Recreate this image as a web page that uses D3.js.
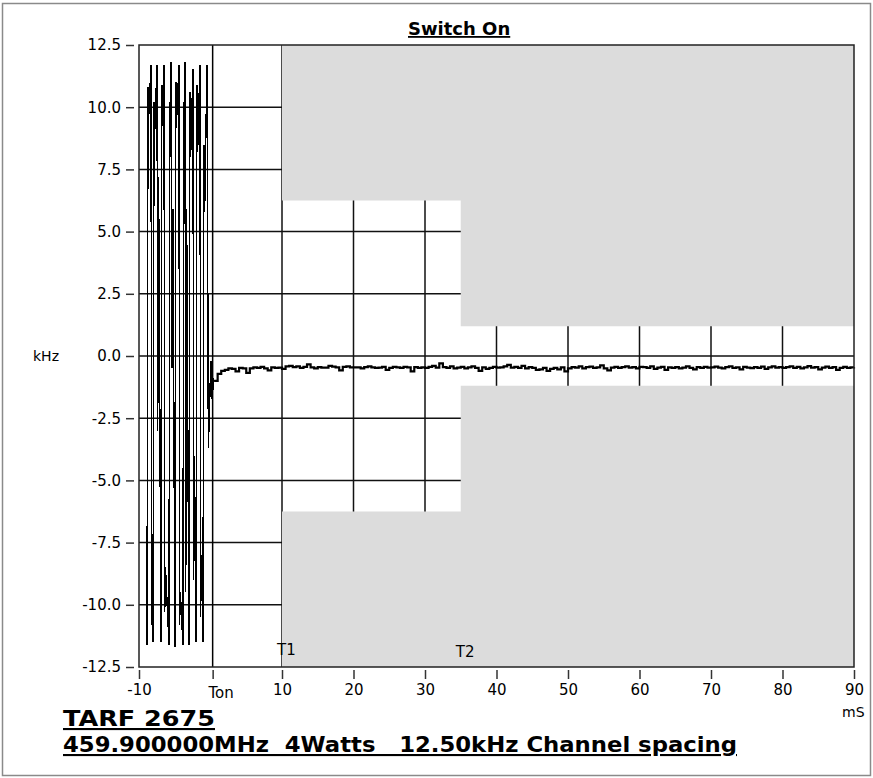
<!DOCTYPE html>
<html>
<head>
<meta charset="UTF-8">
<title>Switch On</title>
<style>
  body { margin: 0; background: #fff; }
  svg text { font-family: "DejaVu Sans", Verdana, sans-serif; fill: #000; }
</style>
</head>
<body>
<div id="chart"></div>
<script src="https://cdnjs.cloudflare.com/ajax/libs/d3/7.8.5/d3.min.js"></script>
<script>
// axis ticks
var xTicks = [-10, 0.3, 10, 20, 30, 40, 50, 60, 70, 80, 90];
var xTickLabels = ["-10", "Ton", "10", "20", "30", "40", "50", "60", "70", "80", "90"];
var yTicks = [12.5, 10, 7.5, 5, 2.5, 0, -2.5, -5, -7.5, -10, -12.5];
var yTickLabels = ["12.5", "10.0", "7.5", "5.0", "2.5", "0.0", "-2.5", "-5.0", "-7.5", "-10.0", "-12.5"];
var gridX = [10, 20, 30, 40, 50, 60, 70, 80];
var tOn = 0.3;

// limit mask (T1 = 10 ms, T2 = 35 ms)
var maskTime = [10, 35, 90];
var maskLimit = [6.25, 1.2];
var markers = [{name: "T1", t: 10}, {name: "T2", t: 35}];

// frequency before switch on (ms, kHz)
var preTime = [-8.95, -8.88, -8.74, -8.66, -8.32, -8.22, -8.14, -8.04, -7.90, -7.80,
  -7.48, -7.38, -7.26, -6.92, -6.80, -6.72, -6.50, -6.40, -6.30, -5.80,
  -5.70, -5.62, -5.52, -5.40, -5.26, -4.97, -4.84, -4.74, -4.41, -4.32,
  -4.22, -3.85, -3.74, -3.66, -3.57, -3.46, -3.34, -3.01, -2.88, -2.78,
  -2.45, -2.35, -2.24, -2.03, -1.90, -1.80, -1.47, -1.38, -1.28, -1.05,
  -0.92, -0.82, -0.49, -0.30, 0.05, 0.25, 0.40];
var preKHz = [-10.6, -11.6, 10.8, 9.5, 11.7, -10.8, -9.0, -11.5, 10.2, 9.0,
  11.7, -3.0, 7.2, -11.5, 10.9, 10.0, 11.7, -10.3, -8.5, -11.6,
  10.2, 8.0, 11.8, -0.5, 5.9, -11.7, 11.0, 9.5, 11.7, -10.8,
  -9.5, -11.6, 10.2, 7.8, 11.8, -9.5, 5.9, -11.6, 10.6, 8.0,
  11.55, -9.0, -4.0, -11.5, 10.9, 8.2, 11.7, -10.5, -8.0, -11.5,
  8.5, 5.8, 11.7, -3.7, -0.2, -1.8, -0.9];

// frequency after switch on, one reading every 0.5 ms from 0.5 ms
var postStart = 0.5, postStep = 0.5;
var postKHz = [
  -1.00, -0.72, -0.60, -0.56, -0.50, -0.52, -0.62, -0.48, -0.50, -0.68, -0.50, -0.46, -0.48, -0.44, -0.50, -0.58, -0.46, -0.48, -0.47, -0.52,
  -0.42, -0.40, -0.45, -0.42, -0.48, -0.44, -0.34, -0.46, -0.50, -0.45, -0.47, -0.47, -0.40, -0.43, -0.46, -0.58, -0.44, -0.42, -0.46, -0.46,
  -0.46, -0.50, -0.45, -0.42, -0.46, -0.48, -0.47, -0.44, -0.56, -0.48, -0.44, -0.46, -0.48, -0.44, -0.46, -0.62, -0.45, -0.48, -0.46, -0.48,
  -0.44, -0.40, -0.47, -0.30, -0.45, -0.48, -0.42, -0.50, -0.47, -0.44, -0.50, -0.46, -0.42, -0.48, -0.60, -0.46, -0.52, -0.48, -0.44, -0.47,
  -0.46, -0.42, -0.36, -0.47, -0.44, -0.48, -0.40, -0.50, -0.45, -0.48, -0.56, -0.54, -0.48, -0.60, -0.52, -0.48, -0.54, -0.46, -0.62, -0.50,
  -0.45, -0.47, -0.42, -0.50, -0.45, -0.43, -0.48, -0.46, -0.38, -0.50, -0.58, -0.47, -0.44, -0.48, -0.45, -0.42, -0.47, -0.45, -0.50, -0.44,
  -0.45, -0.48, -0.42, -0.52, -0.47, -0.44, -0.56, -0.46, -0.48, -0.45, -0.50, -0.47, -0.42, -0.48, -0.54, -0.45, -0.48, -0.44, -0.47, -0.46,
  -0.43, -0.47, -0.50, -0.45, -0.42, -0.48, -0.46, -0.54, -0.44, -0.47, -0.49, -0.45, -0.48, -0.43, -0.52, -0.46, -0.42, -0.47, -0.45, -0.48,
  -0.45, -0.42, -0.48, -0.44, -0.50, -0.46, -0.41, -0.47, -0.45, -0.54, -0.47, -0.43, -0.48, -0.45, -0.56, -0.48, -0.44, -0.48, -0.46, -0.45
];

var width = 873, height = 778;
var plot = {left: 139, right: 854, top: 45, bottom: 667};

var svg = d3.select("#chart").append("svg")
  .attr("width", width).attr("height", height);

svg.append("rect")
  .attr("x", 2.5).attr("y", 3.5)
  .attr("width", width - 5).attr("height", height - 6)
  .attr("fill", "#fff").attr("stroke", "#8a8a8a").attr("stroke-width", 1.5);

var x = d3.scaleLinear().domain([-10, 90]).range([plot.left, plot.right]);
var y = d3.scaleLinear().domain([-12.5, 12.5]).range([plot.bottom, plot.top]);

// grid
svg.append("g").selectAll("line")
  .data(yTicks.slice(1, -1))
  .join("line")
  .attr("x1", plot.left).attr("x2", plot.right)
  .attr("y1", d => y(d)).attr("y2", d => y(d))
  .attr("stroke", "#111").attr("stroke-width", 1.5);
svg.append("g").selectAll("line")
  .data(gridX)
  .join("line")
  .attr("x1", d => x(d)).attr("x2", d => x(d))
  .attr("y1", plot.top).attr("y2", plot.bottom)
  .attr("stroke", "#111").attr("stroke-width", 1.5);

// grey limit mask
var upper = [[maskTime[0], 12.5], [maskTime[2], 12.5], [maskTime[2], maskLimit[1]],
  [maskTime[1], maskLimit[1]], [maskTime[1], maskLimit[0]], [maskTime[0], maskLimit[0]]];
var lower = upper.map(p => [p[0], -p[1]]);
svg.append("g").selectAll("path")
  .data([upper, lower])
  .join("path")
  .attr("d", d => "M" + d.map(p => x(p[0]) + "," + y(p[1])).join("L") + "Z")
  .attr("fill", "#dcdcdc");

// Ton line
svg.append("line")
  .attr("x1", x(tOn)).attr("x2", x(tOn))
  .attr("y1", plot.top).attr("y2", plot.bottom)
  .attr("stroke", "#000").attr("stroke-width", 1.5);

// trace
var trace = preTime.map((t, i) => [t, preKHz[i]]);
var post = postKHz.map((v, i) => [postStart + i * postStep, v]);

svg.append("path")
  .datum(trace.concat([post[0]]))
  .attr("fill", "none").attr("stroke", "#000").attr("stroke-width", 1.4)
  .attr("shape-rendering", "crispEdges")
  .attr("d", d3.line().x(d => x(d[0])).y(d => y(d[1])));
svg.append("path")
  .datum(post)
  .attr("fill", "none").attr("stroke", "#000").attr("stroke-width", 2.2)
  .attr("d", d3.line().curve(d3.curveStepAfter).x(d => x(d[0])).y(d => y(d[1])));

// frame
svg.append("rect")
  .attr("x", plot.left).attr("y", plot.top)
  .attr("width", plot.right - plot.left).attr("height", plot.bottom - plot.top)
  .attr("fill", "none").attr("stroke", "#222").attr("stroke-width", 1.5);

// axes
var yAxis = svg.append("g")
  .attr("transform", "translate(134,0)")
  .call(d3.axisLeft(y).tickValues(yTicks).tickSize(8).tickPadding(5)
    .tickFormat((d, i) => yTickLabels[i]));
var xAxis = svg.append("g")
  .attr("transform", "translate(0," + (plot.bottom + 3) + ")")
  .call(d3.axisBottom(x).tickValues(xTicks).tickSize(9).tickPadding(5)
    .tickFormat((d, i) => xTickLabels[i]));
[yAxis, xAxis].forEach(function(g) {
  g.select(".domain").remove();
  g.selectAll(".tick line").attr("stroke", "#333").attr("stroke-width", 1.5);
  g.selectAll(".tick text").attr("font-size", 15).attr("font-family", "DejaVu Sans");
});
xAxis.selectAll(".tick text").filter((d, i) => xTickLabels[i] == "Ton")
  .attr("dx", 8).attr("dy", "0.95em");

// T1 / T2
svg.append("g").selectAll("text")
  .data(markers)
  .join("text")
  .attr("x", d => x(d.t) - 5).attr("y", (d, i) => 655 + i * 2)
  .attr("font-size", 15)
  .text(d => d.name);

// titles
svg.append("text")
  .attr("x", 408).attr("y", 35)
  .attr("font-size", 18).attr("font-weight", "bold")
  .attr("text-decoration", "underline")
  .text("Switch On");
svg.append("text")
  .attr("x", 33).attr("y", 361)
  .attr("font-size", 14)
  .text("kHz");
svg.append("text")
  .attr("x", 842).attr("y", 717)
  .attr("font-size", 14)
  .text("mS");
svg.append("text")
  .attr("x", 63).attr("y", 726)
  .attr("font-size", 21).attr("font-weight", "bold")
  .attr("text-decoration", "underline")
  .attr("textLength", 152).attr("lengthAdjust", "spacingAndGlyphs")
  .text("TARF 2675");
svg.append("text")
  .attr("x", 63).attr("y", 752)
  .attr("font-size", 21).attr("font-weight", "bold")
  .attr("text-decoration", "underline")
  .attr("textLength", 674).attr("lengthAdjust", "spacingAndGlyphs")
  .style("white-space", "pre")
  .text("459.900000MHz  4Watts   12.50kHz Channel spacing");
</script>
</body>
</html>
